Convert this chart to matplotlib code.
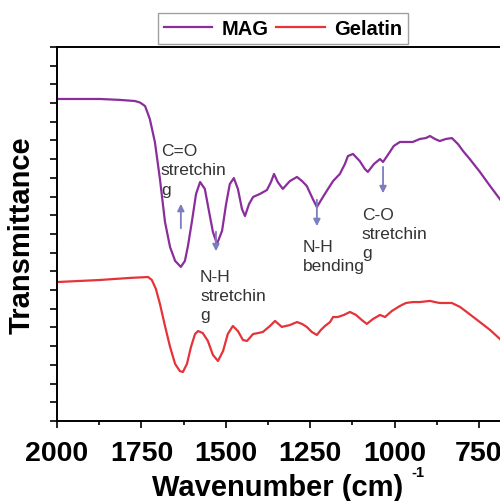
import matplotlib
matplotlib.use("Agg")
import matplotlib.pyplot as plt
from matplotlib.ticker import MultipleLocator

plt.rcParams['font.family'] = ['Liberation Sans', 'DejaVu Sans']

# FTIR spectra (wavenumber in cm^-1, transmittance in arbitrary units)
mag_wn = [2000, 1873, 1813, 1769, 1754, 1739, 1725, 1710, 1695, 1680, 1665,
          1650, 1633, 1621, 1612, 1600, 1588, 1576, 1562, 1547, 1538, 1526,
          1511, 1499, 1488, 1476, 1464, 1452, 1443, 1431, 1419, 1399, 1378,
          1366, 1357, 1346, 1331, 1310, 1289, 1274, 1260, 1242, 1230, 1212,
          1197, 1182, 1162, 1147, 1138, 1123, 1103, 1088, 1079, 1061, 1043,
          1034, 1020, 1002, 984, 963, 946, 925, 907, 895, 880, 866, 848, 830,
          812, 797, 777, 747, 717, 688, 658]
mag_t = [17.22, 17.22, 17.17, 17.11, 17.03, 16.84, 16.15, 14.92, 12.94, 10.64, 9.30,
         8.56, 8.24, 8.56, 9.36, 10.70, 12.14, 12.78, 12.41, 10.96, 10.11, 9.47,
         10.16, 11.60, 12.67, 12.99, 12.41, 11.34, 10.96, 11.60, 11.98, 12.14, 12.35,
         12.78, 13.21, 12.78, 12.41, 12.83, 13.05, 12.83, 12.57, 11.87, 11.44, 11.98,
         12.41, 12.83, 13.21, 13.74, 14.17, 14.28, 13.90, 13.48, 13.32, 13.74, 14.01,
         13.85, 14.22, 14.71, 14.92, 14.92, 14.92, 15.08, 15.13, 15.24, 15.08, 14.97, 15.08, 15.13,
         14.81, 14.44, 14.01, 13.32, 12.57, 11.87, 11.07]

gel_wn = [2000, 1873, 1784, 1730, 1719, 1707, 1695, 1680, 1665, 1650, 1636,
          1627, 1615, 1603, 1591, 1582, 1568, 1553, 1538, 1523, 1508, 1494,
          1479, 1464, 1449, 1437, 1419, 1405, 1390, 1369, 1354, 1334, 1310,
          1289, 1274, 1260, 1245, 1230, 1218, 1206, 1191, 1182, 1168, 1150,
          1132, 1114, 1097, 1082, 1064, 1043, 1028, 1008, 984, 966, 946, 925,
          895, 880, 866, 830, 806, 786, 747, 717, 688, 658]
gel_t = [7.43, 7.54, 7.65, 7.70, 7.54, 7.06, 6.26, 5.08, 3.96, 3.05, 2.67,
         2.62, 3.05, 3.96, 4.65, 4.81, 4.70, 4.28, 3.53, 3.21, 3.74, 4.65,
         5.08, 4.81, 4.33, 4.28, 4.65, 4.70, 4.76, 5.08, 5.35, 5.03, 5.13,
         5.29, 5.19, 5.03, 4.76, 4.60, 4.87, 5.08, 5.29, 5.56, 5.56, 5.67,
         5.83, 5.67, 5.40, 5.19, 5.45, 5.67, 5.56, 5.88, 6.15, 6.31, 6.36, 6.36,
         6.42, 6.36, 6.31, 6.31, 6.10, 5.83, 5.29, 4.87, 4.39, 3.85]

xticks = [2000, 1750, 1500, 1250, 1000, 750]

# band assignments: (label, text x, text y, arrow x, arrow tail y, arrow head y)
bands = [
    ("C=O\nstretchin\ng", 1692, 14.85, 1633, 10.16, 11.76),
    ("N-H\nstretchin\ng", 1576, 8.15, 1529, 10.27, 8.93),
    ("N-H\nbending", 1271, 9.75, 1230, 11.98, 10.27),
    ("C-O\nstretchin\ng", 1097, 11.45, 1034, 13.74, 12.03),
]

fig = plt.figure(figsize=(5, 5.02), dpi=100)
ax = fig.add_axes([0.114, 0.1594, 1.08, 0.745])

ax.plot(mag_wn, mag_t, color='#8B2D9C', lw=1.6, label='MAG',
        solid_joinstyle='round')
ax.plot(gel_wn, gel_t, color='#E5333A', lw=1.6, label='Gelatin',
        solid_joinstyle='round')

for label, tx, ty, axx, y0, y1 in bands:
    ax.annotate('', xy=(axx, y1), xytext=(axx, y0),
                arrowprops=dict(arrowstyle='-|>', color='#7B7DBE', lw=1.3,
                                mutation_scale=10))
    ax.text(tx, ty, label, fontsize=12.5, color='#333333', ha='left',
            va='top', linespacing=1.35)

ax.set_xlim(2000, 400)
ax.set_ylim(0, 20)
ax.set_xticks(xticks)
ax.xaxis.set_minor_locator(MultipleLocator(125))
ax.yaxis.set_major_locator(MultipleLocator(1))
ax.set_yticklabels([])
ax.tick_params(axis='x', which='major', length=5, width=1.2, labelsize=20.5,
               pad=9)
ax.tick_params(axis='x', which='minor', length=3, width=1.2)
ax.tick_params(axis='y', length=5, width=1.2)
for lab in ax.get_xticklabels():
    lab.set_fontweight('bold')
for sp in ax.spines.values():
    sp.set_linewidth(1.4)

# axis titles
ax.text(0.409, -0.199, 'Wavenumber (cm)', transform=ax.transAxes,
        fontsize=21, fontweight='bold', ha='center', va='baseline')
ax.text(0.657, -0.147, '-1', transform=ax.transAxes,
        fontsize=10.5, fontweight='bold', ha='left', va='baseline')
ax.set_ylabel('Transmittance', fontsize=21, fontweight='bold')
ax.yaxis.set_label_coords(-0.039, 0.5)

fig.legend(loc='center', bbox_to_anchor=(0.566, 0.942), ncol=2,
           prop=dict(weight='bold', size=14.5), frameon=True, fancybox=False,
           edgecolor='#888888', handlelength=2.4, handletextpad=0.45,
           columnspacing=0.4, borderpad=0.3)

fig.savefig('out.png', dpi=100)
